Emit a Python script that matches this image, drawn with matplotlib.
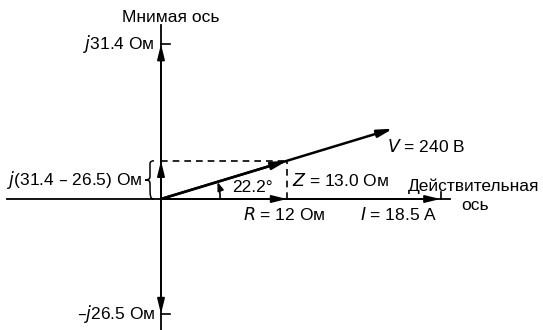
import numpy as np
import matplotlib.pyplot as plt
from matplotlib.path import Path
from matplotlib.patches import PathPatch

# circuit values (Ом, В, А, градусы)
R_OHM = 12.0
XL_OHM = 31.4
XC_OHM = 26.5
Z_OHM = 13.0
V_VOLT = 240
I_AMP = 18.5
PHI_DEG = 22.2

# drawing scales (pixels per unit), the sketch is not to scale
SCALE_R = 10.5
SCALE_XNET = 7.8
SCALE_XL = 4.93
SCALE_XC = 4.34
SCALE_V = 1.01
SCALE_I = 15.1

plt.rcParams["font.family"] = ["Liberation Sans", "DejaVu Sans"]
FS = 12.5

fig = plt.figure(figsize=(5.43, 3.30), dpi=100)
ax = fig.add_axes([0, 0, 1, 1])
ax.set_xlim(-161, 382)
ax.set_ylim(-131, 199)
ax.axis("off")


def arrow(x0, y0, x1, y1, lw=1.3, conn=None, hl=0.9, hw=0.22):
    props = dict(arrowstyle=f"-|>,head_length={hl},head_width={hw}",
                 color="black", lw=lw, shrinkA=0, shrinkB=0)
    if conn:
        props["connectionstyle"] = conn
    ax.annotate("", xy=(x1, y1), xytext=(x0, y0), arrowprops=props)


x_net = XL_OHM - XC_OHM
r_len = R_OHM * SCALE_R
xnet_len = x_net * SCALE_XNET
xl_len = XL_OHM * SCALE_XL
xc_len = XC_OHM * SCALE_XC
ang = np.arctan2(xnet_len, r_len)
v_len = V_VOLT * SCALE_V
i_len = I_AMP * SCALE_I

# axes
ax.plot([-154, 289], [0, 0], color="black", lw=1.3)
ax.plot([0, 0], [-131, 174], color="black", lw=1.3)

# imaginary axis markers
arrow(0, 0, 0, xl_len)
ax.plot([0, 9], [xl_len, xl_len], color="black", lw=1.2)
arrow(0, 0, 0, -xc_len)
ax.plot([0, 9], [-xc_len, -xc_len], color="black", lw=1.2)

# net reactance, R and projections
arrow(0, 0, 0, xnet_len)
ax.plot([0, r_len], [xnet_len, xnet_len], color="black", lw=1.2, ls=(0, (4, 3)))
ax.plot([r_len, r_len], [0, xnet_len], color="black", lw=1.2, ls=(0, (4, 3)))
arrow(0, 0, i_len, 0)
arrow(0, 0, r_len, 0)
ax.plot([i_len + 1, i_len + 1], [0, 7], color="black", lw=1.2)

# phasors V and Z
arrow(0, 0, v_len * np.cos(ang), v_len * np.sin(ang), lw=1.8)
arrow(0, 0, r_len, xnet_len, lw=1.8)

# angle marker
rad = 59
arrow(rad, 0, rad * np.cos(ang), rad * np.sin(ang), lw=1.2,
      conn="arc3,rad=0.1", hl=0.5, hw=0.18)

# curly brace
xb, yb = -7, xnet_len
mid = yb / 2
verts = [(xb, yb), (xb - 4, yb), (xb - 4, yb - 3), (xb - 4, mid + 4),
         (xb - 4, mid + 1), (xb - 5, mid), (xb - 9, mid),
         (xb - 5, mid), (xb - 4, mid - 1), (xb - 4, mid - 4),
         (xb - 4, 3), (xb - 4, 0), (xb, 0)]
codes = [Path.MOVETO, Path.CURVE3, Path.CURVE3, Path.LINETO,
         Path.CURVE4, Path.CURVE4, Path.CURVE4,
         Path.CURVE4, Path.CURVE4, Path.CURVE4,
         Path.CURVE4, Path.CURVE4, Path.CURVE4]
ax.add_patch(PathPatch(Path(verts, codes), fc="none", ec="black", lw=1.1))

# labels
ax.text(10, 182, "Мнимая ось", fontsize=FS, ha="center", va="center")
ax.text(-6, xl_len, r"$\it{j}$31.4 Ом", fontsize=FS, ha="right", va="center")
ax.text(-6, -xc_len, r"–$\it{j}$26.5 Ом", fontsize=FS, ha="right", va="center")
ax.text(-19, mid, rf"$\it{{j}}$({XL_OHM} – {XC_OHM}) Ом", fontsize=FS,
        ha="right", va="center")
ax.text(91, 11, f"{PHI_DEG}°", fontsize=FS, ha="center", va="center")
ax.text(131, 19, rf"$\it{{Z}}$ = {Z_OHM} Ом", fontsize=FS, ha="left", va="center")
ax.text(226, 52, rf"$\it{{V}}$ = {V_VOLT} В", fontsize=FS, ha="left", va="center")
ax.text(82, -16, rf"$\it{{R}}$ = {R_OHM:.0f} Ом", fontsize=FS, ha="left", va="center")
ax.text(199, -16, rf"$\it{{I}}$ = {I_AMP} А", fontsize=FS, ha="left", va="center")
ax.text(313, 13, "Действительная", fontsize=FS, ha="center", va="center")
ax.text(314, -7, "ось", fontsize=FS, ha="center", va="center")

fig.savefig("out.png", dpi=100)
